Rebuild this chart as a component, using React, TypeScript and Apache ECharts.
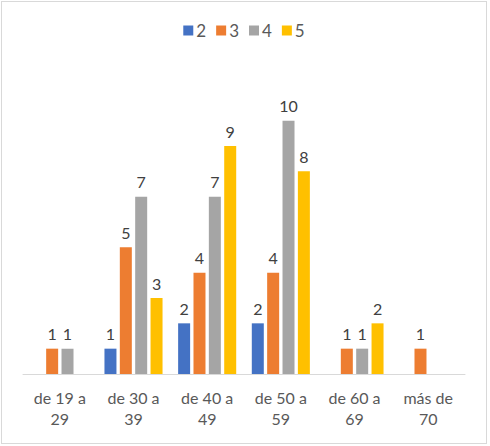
import { useRef, useEffect } from "react";
import * as echarts from "echarts";

const categories = ["de 19 a\n29", "de 30 a\n39", "de 40 a\n49", "de 50 a\n59", "de 60 a\n69", "más de\n70"];
const seriesNames = ["2", "3", "4", "5"];
const values2 = [null, 1, 2, 2, null, null];
const values3 = [1, 5, 4, 4, 1, 1];
const values4 = [1, 7, 7, 10, 1, null];
const values5 = [null, 3, 9, 8, 2, null];
const colors = ["#4472C4", "#ED7D31", "#A5A5A5", "#FFC000"];

export default function App() {
  const chartRef = useRef<HTMLDivElement>(null);

  useEffect(() => {
    if (!chartRef.current) return;
    const chart = echarts.init(chartRef.current, null, { renderer: "svg" });
    const font = "Lato, 'Liberation Sans', sans-serif";
    const all = [values2, values3, values4, values5];

    chart.setOption({
      animation: false,
      color: colors,
      textStyle: { fontFamily: font },
      legend: {
        top: 15,
        left: "center",
        itemWidth: 10,
        itemHeight: 10,
        itemGap: 10,
        icon: "rect",
        textStyle: { fontSize: 17, color: "#595959", fontFamily: font, padding: [0, 0, 0, -2] },
        data: seriesNames,
      },
      grid: { left: 21, right: 21, top: 68, bottom: 69, containLabel: false },
      xAxis: {
        type: "category",
        data: categories,
        axisLine: { lineStyle: { color: "#d9d9d9", width: 1 } },
        axisTick: { show: false },
        axisLabel: {
          color: "#595959",
          fontSize: 16,
          lineHeight: 21,
          margin: 13,
          interval: 0,
          fontFamily: font,
        },
      },
      yAxis: {
        type: "value",
        min: 0,
        max: 12,
        show: false,
        splitLine: { show: false },
      },
      series: seriesNames.map((name, i) => ({
        name,
        type: "bar",
        data: all[i],
        barWidth: 12,
        barGap: "28%",
        itemStyle: { color: colors[i] },
        label: {
          show: true,
          position: "top",
          distance: 7,
          color: "#404040",
          fontSize: 16,
          fontFamily: font,
        },
      })),
    });

    return () => {
      chart.dispose();
    };
  }, []);

  return (
    <div style={{ position: "absolute", left: 0, top: 0, width: 490, height: 446 }}>
      <div
        style={{
          position: "absolute",
          left: 1,
          top: 1,
          width: 486,
          height: 443,
          border: "1px solid #d9d9d9",
          boxSizing: "border-box",
        }}
      >
        <div ref={chartRef} style={{ position: "absolute", left: 0, top: 0, width: 484, height: 441 }} />
      </div>
    </div>
  );
}
